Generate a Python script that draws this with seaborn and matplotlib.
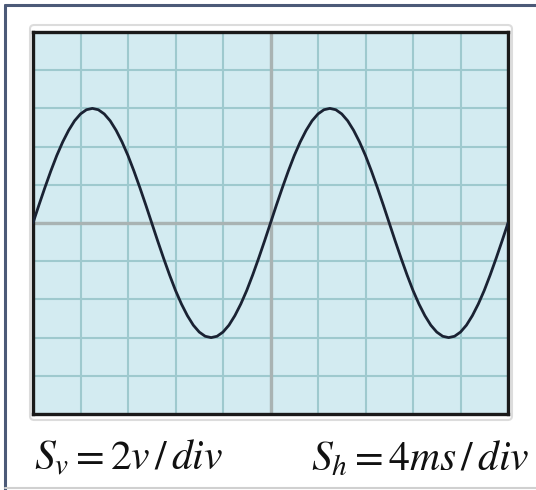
#!/usr/bin/env python3
import numpy as np
import pandas as pd
import seaborn as sns
import matplotlib.pyplot as plt
from matplotlib.lines import Line2D
from matplotlib.patches import FancyBboxPatch

# oscilloscope trace: time (ms) vs voltage (V)
# scale: 2 V/div vertically, 4 ms/div horizontally, 10 x 10 divisions
time_ms = [i * 0.5 for i in range(81)]
volts = [
    0.0, 0.94, 1.85, 2.72, 3.53, 4.24, 4.85, 5.35, 5.71, 5.93,
    6.0, 5.93, 5.71, 5.35, 4.85, 4.24, 3.53, 2.72, 1.85, 0.94,
    0.0, -0.94, -1.85, -2.72, -3.53, -4.24, -4.85, -5.35, -5.71, -5.93,
    -6.0, -5.93, -5.71, -5.35, -4.85, -4.24, -3.53, -2.72, -1.85, -0.94,
    0.0, 0.94, 1.85, 2.72, 3.53, 4.24, 4.85, 5.35, 5.71, 5.93,
    6.0, 5.93, 5.71, 5.35, 4.85, 4.24, 3.53, 2.72, 1.85, 0.94,
    0.0, -0.94, -1.85, -2.72, -3.53, -4.24, -4.85, -5.35, -5.71, -5.93,
    -6.0, -5.93, -5.71, -5.35, -4.85, -4.24, -3.53, -2.72, -1.85, -0.94,
    0.0,
]
x_ticks = list(range(0, 41, 4))
y_ticks = list(range(-10, 11, 2))
label_v = r"$S_v = 2v\,/\,div$"
label_h = r"$S_h = 4ms\,/\,div$"

df = pd.DataFrame({"t": time_ms, "v": volts})

sns.set_style("white", {"axes.facecolor": "#d3ebf1"})
plt.rcParams["mathtext.fontset"] = "stix"

W, H = 536, 490
fig = plt.figure(figsize=(W / 100, H / 100), dpi=100)

def fx(px):
    return px / W

def fy(py):
    return 1 - py / H

# outer frame of the figure
fig.add_artist(Line2D([fx(5), fx(5)], [fy(5), fy(490)], color="#4c5a78", lw=2.2))
fig.add_artist(Line2D([fx(5), fx(536)], [fy(5), fy(5)], color="#4c5a78", lw=2.2))
fig.add_artist(Line2D([fx(5), fx(536)], [fy(488), fy(488)], color="#d0d0d0", lw=1.5))

# faint bezel around the screen
fig.add_artist(FancyBboxPatch((fx(30), fy(420)), fx(482), 395 / H,
                              boxstyle="round,pad=0,rounding_size=0.008",
                              facecolor="none", edgecolor="#dcdcdc", lw=1.5))

left, right, top, bottom = 33, 508, 32, 414
ax = fig.add_axes([fx(left), fy(bottom), fx(right - left), (bottom - top) / H])

for x in x_ticks[1:-1]:
    ax.axvline(x, color="#9ec9ce", lw=1.5, zorder=1)
for y in y_ticks[1:-1]:
    ax.axhline(y, color="#9ec9ce", lw=1.5, zorder=1)
ax.axvline(20, color="#a9b3b3", lw=2.4, zorder=1)
ax.axhline(0, color="#a9b3b3", lw=2.4, zorder=1)

sns.lineplot(data=df, x="t", y="v", ax=ax, color="#1a2233", lw=2.0, zorder=3)

ax.set_xlim(0, 40)
ax.set_ylim(-10, 10)
ax.set_xticks([])
ax.set_yticks([])
ax.set_xlabel("")
ax.set_ylabel("")
for s in ax.spines.values():
    s.set_color("#1a1a1a")
    s.set_linewidth(2.4)

fig.text(fx(34), fy(470), label_v, fontsize=30, color="#111111", ha="left", va="baseline")
fig.text(fx(530), fy(470), label_h, fontsize=30, color="#111111", ha="right", va="baseline")

fig.savefig("out.png", dpi=100)
